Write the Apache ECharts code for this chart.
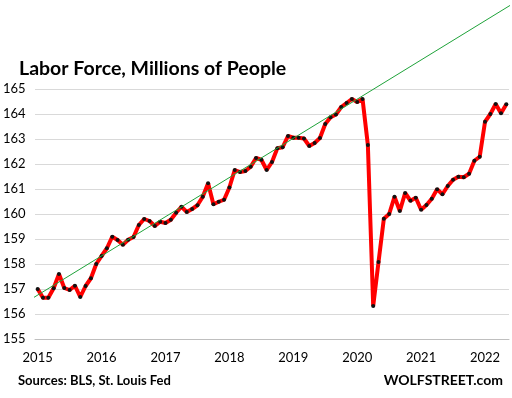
<!DOCTYPE html>
<html>
<head>
<meta charset="utf-8">
<script src="https://cdn.jsdelivr.net/npm/echarts@6/dist/echarts.min.js"></script>
<style>
  html, body { margin: 0; padding: 0; background: #fff; }
  #chart { width: 512px; height: 398px; }
</style>
</head>
<body>
<div id="chart"></div>
<script>
// year tick labels, one category per month from Jan 2015 to May 2022
let years = ['2015', '2016', '2017', '2018', '2019', '2020', '2021', '2022'];
let lastMonth = 5;

// labor force, millions
let laborForce = [
  157.00, 156.65, 156.65, 157.03, 157.60, 157.04, 156.96, 157.13, 156.68, 157.12, 157.43, 158.00,
  158.32, 158.63, 159.09, 158.96, 158.77, 158.97, 159.08, 159.56, 159.80, 159.72, 159.52, 159.69,
  159.64, 159.77, 160.05, 160.29, 160.08, 160.20, 160.35, 160.69, 161.23, 160.39, 160.49, 160.57,
  161.06, 161.76, 161.68, 161.72, 161.89, 162.24, 162.17, 161.76, 162.08, 162.63, 162.67, 163.12,
  163.05, 163.05, 163.02, 162.72, 162.84, 163.04, 163.60, 163.87, 163.98, 164.28, 164.44, 164.60,
  164.48, 164.60, 162.76, 156.32, 158.08, 159.81, 160.00, 160.69, 160.12, 160.84, 160.53, 160.65,
  160.17, 160.36, 160.61, 160.99, 160.79, 161.12, 161.37, 161.49, 161.47, 161.61, 162.13, 162.29,
  163.69, 164.00, 164.40, 164.03, 164.39
];

// pre-pandemic trend line: [month index from Jan 2015, value]
let trendLine = [[-1.2, 156.6], [88.9, 168.37]];

let months = [];
for (let y = 0; y < years.length; ++y) {
    let n = (y === years.length - 1) ? lastMonth : 12;
    for (let m = 1; m <= n; ++m) {
        months.push(years[y] + '-' + (m < 10 ? '0' + m : m));
    }
}

let chart = echarts.init(document.getElementById('chart'));
let font = 'Lato';

let option = {
    animation: false,
    backgroundColor: '#fff',
    title: {
        text: 'Labor Force, Millions of People',
        left: 14,
        top: 54,
        textStyle: { fontFamily: font, fontWeight: 'bold', fontSize: 19.5, color: '#000' }
    },
    graphic: [
        {
            type: 'text', left: 18, top: 374,
            style: { text: 'Sources: BLS, St. Louis Fed', fontFamily: font, fontWeight: 'bold', fontSize: 13, fill: '#000' }
        },
        {
            type: 'text', right: 9, top: 373,
            style: { text: 'WOLFSTREET.com', fontFamily: font, fontWeight: 'bold', fontSize: 14, fill: '#000' }
        }
    ],
    grid: { left: 35, right: 3, top: 89, bottom: 59 },
    xAxis: [
        {
            type: 'category',
            data: months,
            boundaryGap: true,
            axisLine: { lineStyle: { color: '#bfbfbf' } },
            axisTick: { interval: 11, length: 5, lineStyle: { color: '#bfbfbf' } },
            axisLabel: {
                interval: 11,
                margin: 12,
                fontFamily: font,
                fontSize: 13,
                color: '#000',
                formatter: function (v) { return v.slice(0, 4); }
            },
            splitLine: { show: false }
        },
        {
            type: 'value',
            min: -0.5,
            max: months.length - 0.5,
            show: false
        }
    ],
    yAxis: {
        type: 'value',
        min: 155,
        max: 165,
        interval: 1,
        axisLine: { show: false },
        axisTick: { show: false },
        axisLabel: { align: 'left', margin: 32, fontFamily: font, fontSize: 13, color: '#000' },
        splitLine: { lineStyle: { color: '#d9d9d9', width: 1 } }
    },
    series: [
        {
            type: 'line',
            xAxisIndex: 1,
            data: trendLine,
            symbol: 'none',
            clip: false,
            silent: true,
            lineStyle: { color: '#1fa33a', width: 1 },
            z: 3
        },
        {
            type: 'line',
            xAxisIndex: 0,
            data: laborForce,
            symbol: 'circle',
            symbolSize: 4,
            showSymbol: true,
            showAllSymbol: true,
            itemStyle: { color: '#111' },
            lineStyle: { color: '#ff0000', width: 4 },
            z: 2
        }
    ]
};

chart.setOption(option);
</script>
</body>
</html>
